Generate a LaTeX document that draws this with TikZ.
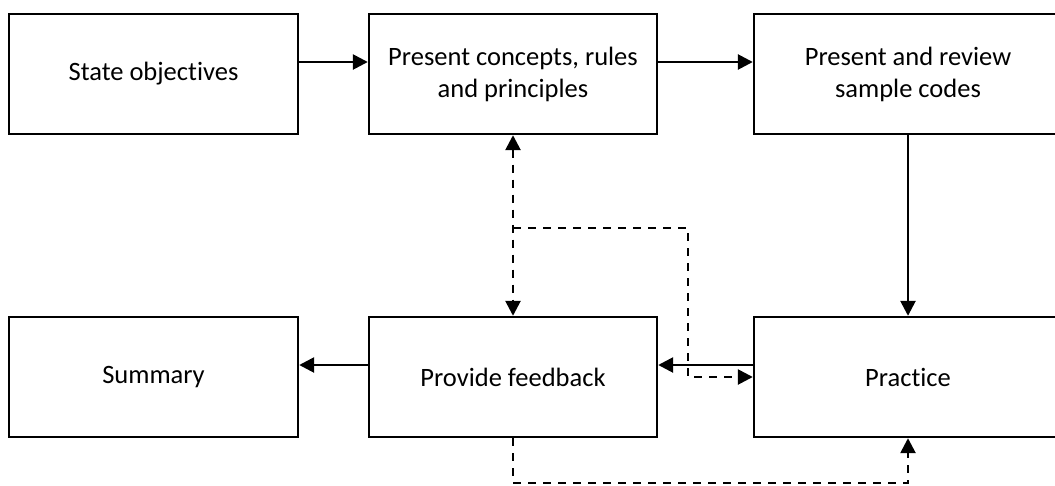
\documentclass[tikz,border=0pt]{standalone}
\usepackage{fontspec}
\setmainfont{Carlito}[Ligatures={NoCommon}]
\usetikzlibrary{arrows.meta,calc}
\begin{document}
\begin{tikzpicture}[x=1pt,y=-1pt,
  box/.style={draw,line width=2.4pt,minimum height=120pt,align=center,inner sep=0pt,
    font=\fontsize{26.5}{32}\selectfont},
  conn/.style={line width=2.6pt,-{Triangle[length=15pt,width=15pt]}},
  dconn/.style={line width=2.6pt,dash pattern=on 8pt off 7pt,-{Triangle[length=15pt,width=15pt]}}]
\path[use as bounding box] (0,0) rectangle (1055,485);
\clip (0,0) rectangle (1055,485);
\node[box,minimum width=289pt] (b1) at (153.5,74) {State objectives};
\node[box,minimum width=288pt] (b2) at (513,74) {Present concepts, rules\\and principles};
\node[box,minimum width=308pt] (b3) at (908,74) {Present and review\\sample codes};
\node[box,minimum width=289pt] (b4) at (153.5,377) {Summary};
\node[box,minimum width=288pt] (b5) at (513,377) {Provide feedback};
\node[box,minimum width=308pt] (b6) at (908,377) {Practice};
\coordinate (r1) at (0,62);
\coordinate (r2) at (0,365);
\coordinate (j) at (513,228);
\coordinate (k1) at (688,228);
\coordinate (k2) at (688,377);
\coordinate (m1) at (513,483);
\coordinate (m2) at (908,483);
\draw[conn] (b1.east |- r1) -- (b2.west |- r1);
\draw[conn] (b2.east |- r1) -- (b3.west |- r1);
\draw[conn] (b3.south) -- (b6.north);
\draw[conn] (b6.west |- r2) -- (b5.east |- r2);
\draw[conn] (b5.west |- r2) -- (b4.east |- r2);
\draw[dconn,{Triangle[length=15pt,width=15pt]}-{Triangle[length=15pt,width=15pt]}] (b2.south) -- (b5.north);
\draw[dconn] (j) -- (k1) -- (k2) -- (b6.west);
\draw[dconn] (b5.south) -- (m1) -- (m2) -- (b6.south);
\end{tikzpicture}
\end{document}
